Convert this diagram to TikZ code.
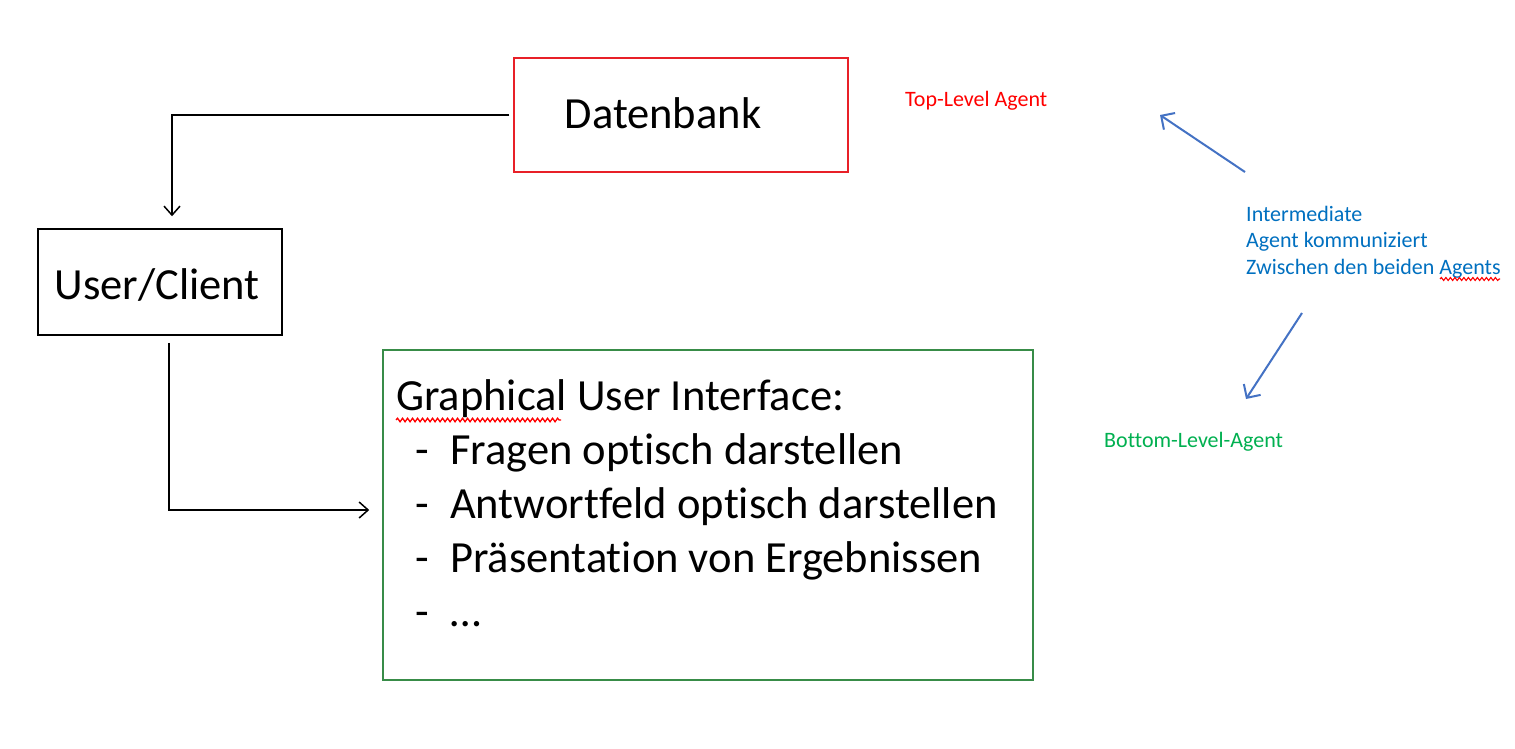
\documentclass[tikz,border=0pt]{standalone}
\usepackage{fontspec}
\setmainfont{Carlito}[Ligatures={NoCommon}]
\usetikzlibrary{arrows.meta,decorations.pathmorphing}
\definecolor{boxred}{RGB}{232,32,40}
\definecolor{boxgreen}{RGB}{56,140,72}
\definecolor{txtblue}{RGB}{0,112,192}
\definecolor{arrblue}{RGB}{68,114,196}
\definecolor{txtgreen}{RGB}{0,176,80}
\tikzset{
  box/.style={draw, line width=1.5pt, inner sep=0pt},
  big/.style={font=\fontsize{44.5}{54}\selectfont, inner sep=0pt},
  small/.style={font=\fontsize{22}{26}\selectfont, inner sep=0pt},
  conn/.style={draw=black, line width=1.5pt, -{Straight Barb[length=9pt,width=16pt,line width=1.5pt]}},
  bluearr/.style={draw=arrblue, line width=2pt, -{Straight Barb[length=10pt,width=20pt,line width=2pt]}},
  squiggle/.style={draw=red, line width=1.3pt, decorate, decoration={snake, amplitude=1.8pt, segment length=5pt}},
  smallsquiggle/.style={draw=red, line width=1.1pt, decorate, decoration={snake, amplitude=1.5pt, segment length=4.5pt}}
}
\begin{document}
\begin{tikzpicture}[x=1pt,y=-1pt]
\useasboundingbox[fill=white] (0,0) rectangle (1515,749);
% boxes
\node[box, draw=boxred, minimum width=334pt, minimum height=114pt] (db) at (681,115) {};
\node[box, draw=black, minimum width=244pt, minimum height=106pt] (uc) at (160,282) {};
\node[box, draw=boxgreen, minimum width=650pt, minimum height=330pt] (gui) at (708,515) {};
% box texts
\node[big, anchor=base] (dbt) at (663,129) {Datenbank};
\node[big, anchor=base] (uct) at (157,299) {User/Client};
\node[big, anchor=base west] (g0) at (396,410) {Graphical User Interface:};
\node[big, anchor=base west] (d1) at (415,464) {-};
\node[big, anchor=base west] (g1) at (450,464) {Fragen optisch darstellen};
\node[big, anchor=base west] (d2) at (415,518) {-};
\node[big, anchor=base west] (g2) at (450,518) {Antwortfeld optisch darstellen};
\node[big, anchor=base west] (d3) at (415,572) {-};
\node[big, anchor=base west] (g3) at (450,572) {Präsentation von Ergebnissen};
\node[big, anchor=base west] (d4) at (415,626) {-};
\node[big, anchor=base west] (g4) at (450,626) {\dots};
\draw[squiggle] (396,420) -- (561,420);
% connectors
\draw[conn, shorten <=4pt, shorten >=12pt] (db.west) -| ([xshift=12pt]uc.north);
\draw[conn, shorten <=7pt, shorten >=13pt] ([xshift=9pt]uc.south) |- ([yshift=5pt]gui.west);
% agent labels
\node[small, text=red, anchor=base west] (top) at (905,107) {Top-Level Agent};
\node[small, text=txtblue, anchor=base west] (im1) at (1246,221) {Intermediate};
\node[small, text=txtblue, anchor=base west] (im2) at (1246,247) {Agent kommuniziert};
\node[small, text=txtblue, anchor=base west] (im3) at (1246,274) {Zwischen den beiden Agents};
\draw[smallsquiggle] (1440,279) -- (1500,279);
\node[small, text=txtgreen, anchor=base west] (bot) at (1104,447) {Bottom-Level-Agent};
% blue arrows
\coordinate (a1s) at (1245,172);
\coordinate (a1e) at (1160,115);
\coordinate (a2s) at (1302,313);
\coordinate (a2e) at (1246,399);
\draw[bluearr] (a1s) -- (a1e);
\draw[bluearr] (a2s) -- (a2e);
\end{tikzpicture}
\end{document}
